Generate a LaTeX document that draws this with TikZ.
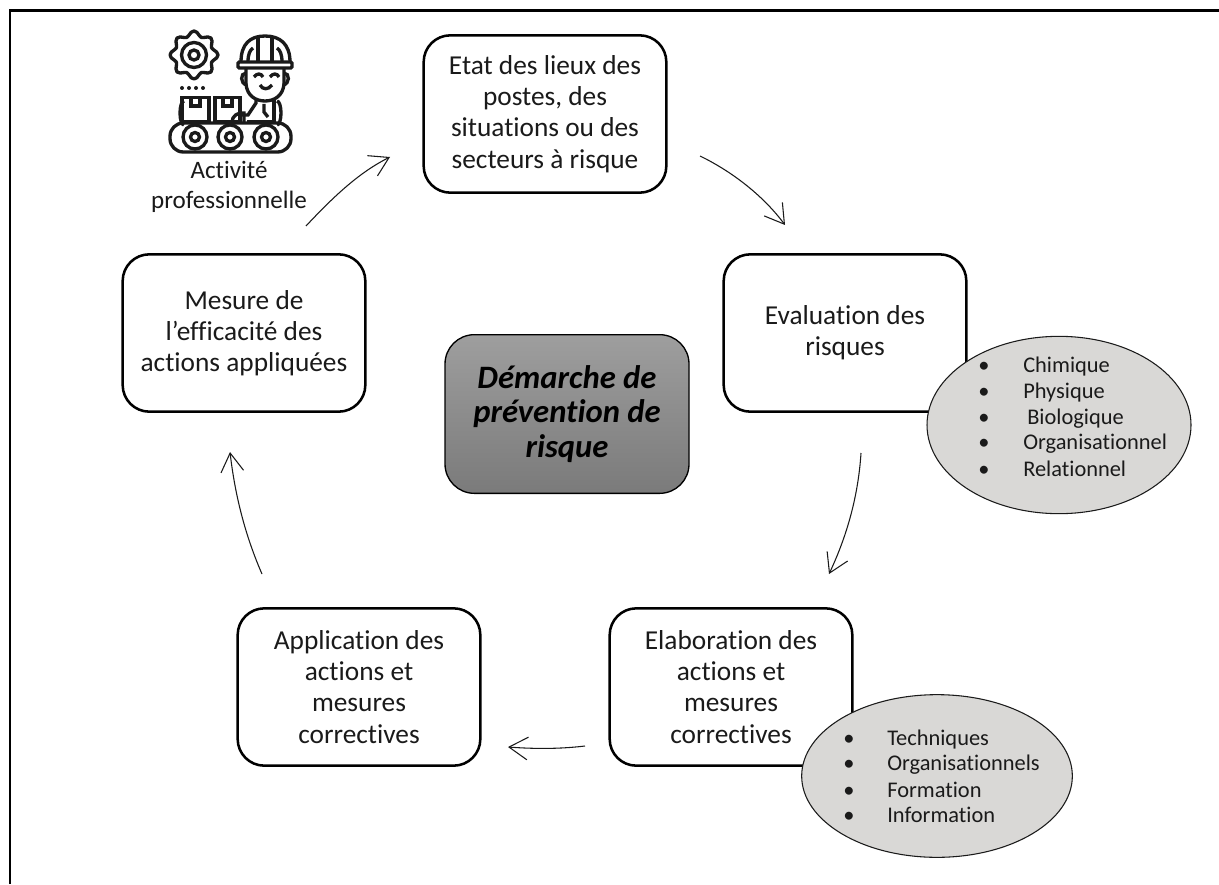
\documentclass[tikz,border=0pt]{standalone}
\usepackage{fontspec}
\setmainfont[Ligatures=NoCommon]{Carlito}
\usetikzlibrary{shapes.geometric,arrows.meta}
\definecolor{ink}{HTML}{1A1A1A}
\definecolor{ovalfill}{HTML}{D9D8D6}
\tikzset{
  box/.style={draw=black,line width=1.9pt,rounded corners=20pt,fill=white,minimum width=182pt,minimum height=118pt,align=center,font=\fontsize{20.5}{23.4}\selectfont,text=ink,inner sep=0pt},
  oval/.style={draw=ink,line width=.8pt,fill=ovalfill,ellipse,inner sep=0pt},
  flow/.style={draw=ink,line width=.8pt,-{Straight Barb[length=14pt,width=17pt,line width=.8pt]}},
  small/.style={font=\fontsize{16.8}{16.8}\selectfont,text=ink,anchor=base west,inner sep=0pt,yshift=-5.2pt},
  bullet/.style={font=\fontsize{16.8}{16.8}\selectfont,text=ink,inner sep=0pt,anchor=base,yshift=-5.2pt},
  icon/.style={draw=ink,line width=2.5pt}
}
\begin{document}
\begin{tikzpicture}[x=.75pt,y=-.75pt]
\useasboundingbox (0,0) rectangle (1219,884);
\fill[white] (0,0) rectangle (1219,884);
\coordinate (fa) at (10,884); \coordinate (fb) at (10,10.5); \coordinate (fc) at (1219,10.5);
\draw[black,line width=2.2pt] (fa) -- (fb) -- (fc);
% boxes
\node[box] (etat) at (545,114) {Etat des lieux des\\postes, des\\situations ou des\\secteurs à risque};
\node[box] (eval) at (845,333) {Evaluation des\\risques};
\node[box] (elab) at (731,687) {Elaboration des\\actions et\\mesures\\correctives};
\node[box] (appl) at (359,687) {Application des\\actions et\\mesures\\correctives};
\node[box] (mesure) at (244,333) {Mesure de\\l’efficacité des\\actions appliquées};
% centre
\node[draw=black,line width=1pt,rounded corners=22pt,minimum width=183pt,minimum height=119pt,top color=black!38,bottom color=black!52,inner sep=0pt,align=center,font=\fontsize{24.5}{26}\selectfont\bfseries\itshape,text=black] (demarche) at (567,414) {Démarche de\\prévention de\\risque};
% ovals
\node[oval,minimum width=198pt,minimum height=133pt] (ov1) at (1059,425) {};
\node[oval,minimum width=203pt,minimum height=122pt] (ov2) at (937,776) {};
% list 1
\foreach \n/\yy/\xx/\t in {a/366/1023/Chimique,b/392/1023/Physique,c/418/1027/Biologique,d/443/1023/Organisationnel,e/470/1023/Relationnel}{
  \node[bullet] (b1\n) at (984,\yy) {•};
  \node[small] (t1\n) at (\xx,\yy) {\t};
}
\foreach \n/\yy/\t in {a/739/Techniques,b/764/Organisationnels,c/791/Formation,d/816/Information}{
  \node[bullet] (b2\n) at (849,\yy) {•};
  \node[small] (t2\n) at (887,\yy) {\t};
}
% label
\node[align=center,font=\fontsize{18.8}{22.5}\selectfont,text=ink,inner sep=0pt] (activite) at (229,187) {Activité\\professionnelle};
% connector free ends
\coordinate (c1s) at (306,226); \coordinate (c1e) at (390,157);
\coordinate (c2s) at (700,156); \coordinate (c2e) at (785,225);
\coordinate (c3s) at (861,453); \coordinate (c3e) at (829,574);
\coordinate (c4s) at (585,746); \coordinate (c4e) at (508,747);
\coordinate (c5s) at (262,574); \coordinate (c5e) at (230,452);
\draw[flow] (c1s) .. controls (335,195) and (360,172) .. (c1e);
\draw[flow] (c2s) .. controls (735,173) and (765,198) .. (c2e);
\draw[flow] (c3s) .. controls (858,500) and (845,540) .. (c3e);
\draw[flow] (c4s) .. controls (560,749) and (535,749) .. (c4e);
\draw[flow] (c5s) .. controls (245,535) and (235,495) .. (c5e);
% icon
\begin{scope}
 % gear
 \draw[icon,line join=round] plot[smooth cycle,samples=48,domain=0:352.5] ({194+(21.5+2.5*cos(8*\x))*cos(\x)},{55+(21.5+2.5*cos(8*\x))*sin(\x)});
 \draw[icon] (194,55) circle (12.5);
 \draw[icon] (194,55) circle (5);
 \foreach \x in {182,189,196,203}{\fill[ink] (\x,88) circle (2);}
 % boxes
 \draw[icon] (182,97.5) rectangle (209,122);
 \draw[icon] (215,97.5) rectangle (240,122);
 \draw[icon] (191,97.5) -- (191,106) -- (200,106) -- (200,97.5);
 \draw[icon] (223,97.5) -- (223,106) -- (232,106) -- (232,97.5);
 % belt
 \draw[icon,rounded corners=10pt] (170,123) rectangle (291,152);
 \foreach \x in {195,230,266}{\draw[icon,fill=white] (\x,137) circle (12); \draw[icon] (\x,137) circle (4.5);}
 \draw[icon] (184,125) arc (90:270:4 and 12);
 \draw[icon] (277,125) arc (90:-90:4 and 12);
 % helmet
 \draw[icon,line join=round] (241,62) .. controls (241,44) and (250,36) .. (265,36) .. controls (280,36) and (290,44) .. (290,62);
 \draw[icon,rounded corners=1pt] (238,62) rectangle (292,68);
 \draw[icon] (258,62) -- (258,37) (272,62) -- (272,37);
 \draw[icon] (248,62) .. controls (248,54) and (250,50) .. (253,48);
 \draw[icon] (282,62) .. controls (282,54) and (280,50) .. (277,48);
 % face
 \draw[icon] (246,68) -- (246,84) .. controls (247,96) and (256,101) .. (265,101) .. controls (274,101) and (283,96) .. (284,84) -- (284,68);
 \draw[icon] (246,73) .. controls (240,73) and (240,84) .. (247,85);
 \draw[icon] (284,73) .. controls (290,73) and (290,84) .. (283,85);
 \draw[icon] (254,77) .. controls (257,73) and (261,73) .. (263,77);
 \draw[icon] (270,77) .. controls (273,73) and (277,73) .. (279,77);
 \draw[icon] (260,85) .. controls (263,90) and (268,90) .. (272,85);
 % body
 \draw[icon] (256,100) -- (256,103) -- (248,115) -- (240,115);
 \draw[icon] (274,99) -- (274,122) -- (247,122);
 \draw[icon] (264,104) -- (264,112) -- (268,117);
 \draw[icon] (232,122) .. controls (232,116) and (238,112) .. (244,113) -- (244,122);
\end{scope}
\end{tikzpicture}
\end{document}
